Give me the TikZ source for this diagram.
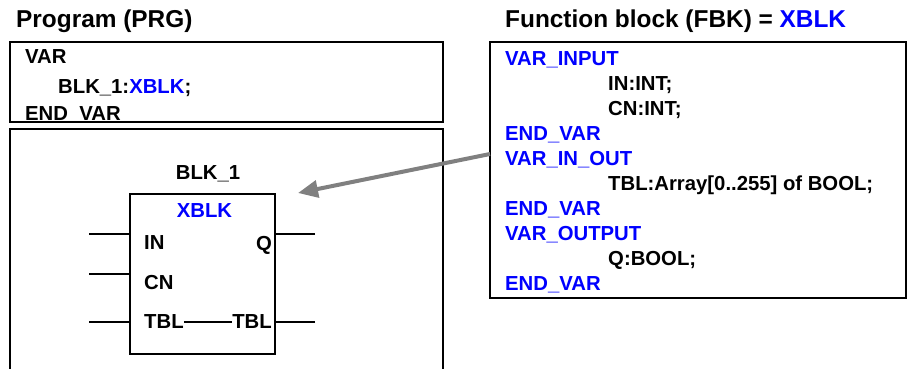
\documentclass[tikz,border=0pt]{standalone}
\usepackage{fontspec}
\setmainfont{Liberation Sans}
\usetikzlibrary{arrows.meta}
\definecolor{kwblue}{RGB}{0,0,255}
\definecolor{arrowgray}{RGB}{128,128,128}
\tikzset{
	code/.style={anchor=base west, inner sep=0pt, font=\fontsize{20.3}{24.7}\selectfont\bfseries},
	kw/.style={code, text=kwblue},
	heading/.style={anchor=base west, inner sep=0pt, font=\fontsize{24.4}{29}\selectfont\bfseries},
	frame/.style={draw=black, line width=1.6pt},
	pin/.style={line width=1.4pt},
}
\begin{document}
\begin{tikzpicture}[x=1pt, y=-1pt]
		\useasboundingbox (0, 0) rectangle (908, 369);
		% headings
		\node[heading] (prg-title) at (16, 28) {Program (PRG)};
		\node[heading] (fbk-title) at (505, 28) {Function block (FBK) = \textcolor{kwblue}{XBLK}};
		% declaration part of the program
		\draw[frame] (10, 42) rectangle (443, 122);
		\node[code] (prg-var) at (25, 64) {VAR};
		\node[code] (prg-inst) at (58, 93) {BLK\_1:\textcolor{kwblue}{XBLK};};
		\node[code] (prg-end) at (25, 120) {END\_VAR};
		% body of the program, open at the bottom
		\draw[frame] (10, 372) -- (10, 129) -- (443, 129) -- (443, 372);
		\node[code, anchor=base] (blk-name) at (208, 179) {BLK\_1};
		\node[draw, line width=1.4pt, minimum width=145pt, minimum height=160pt, inner sep=0pt] (blk) at (202.5, 274) {};
		\node[kw, anchor=base] (blk-type) at (204.5, 217) {XBLK};
		\node[code] (blk-in) at (144, 249) {IN};
		\node[code] (blk-cn) at (144, 289) {CN};
		\node[code, anchor=west] (blk-tblin) at (144, 322) {TBL};
		\node[code, anchor=base east] (blk-q) at (272, 250) {Q};
		\node[code, anchor=east] (blk-tblout) at (272, 322) {TBL};
		% pins
		\coordinate (in-wire) at (89, 234);
		\coordinate (cn-wire) at (89, 274);
		\coordinate (tblin-wire) at (89, 322);
		\coordinate (q-wire) at (315, 234);
		\coordinate (tblout-wire) at (315, 322);
		\draw[pin] (in-wire) -- (in-wire -| blk.west);
		\draw[pin] (cn-wire) -- (cn-wire -| blk.west);
		\draw[pin] (tblin-wire) -- (tblin-wire -| blk.west);
		\draw[pin] (q-wire) -- (q-wire -| blk.east);
		\draw[pin] (tblout-wire) -- (tblout-wire -| blk.east);
		\draw[pin] (blk-tblin) -- (blk-tblout);
		% declaration of the function block
		\draw[frame] (490, 42) rectangle (906, 298);
		\foreach \row/\indent/\style/\txt in {
			0/505/kw/VAR\_INPUT,
			1/608/code/IN:INT;,
			2/608/code/CN:INT;,
			3/505/kw/END\_VAR,
			4/505/kw/VAR\_IN\_OUT,
			5/608/code/TBL:Array[0..255] of BOOL;,
			6/505/kw/END\_VAR,
			7/505/kw/VAR\_OUTPUT,
			8/608/code/Q:BOOL;,
			9/505/kw/END\_VAR}
			\node[\style] (fbk-line-\row) at (\indent, 66 + 24.9*\row) {\txt};
		% reference from the declaration to the instance
		\coordinate (fbk-ref) at (490, 154);
		\coordinate (blk-ref) at (298, 193);
		\draw[arrowgray, line width=4pt, -{Triangle[length=20pt, width=17pt]}] (fbk-ref) -- (blk-ref);
		\end{tikzpicture}
\end{document}
